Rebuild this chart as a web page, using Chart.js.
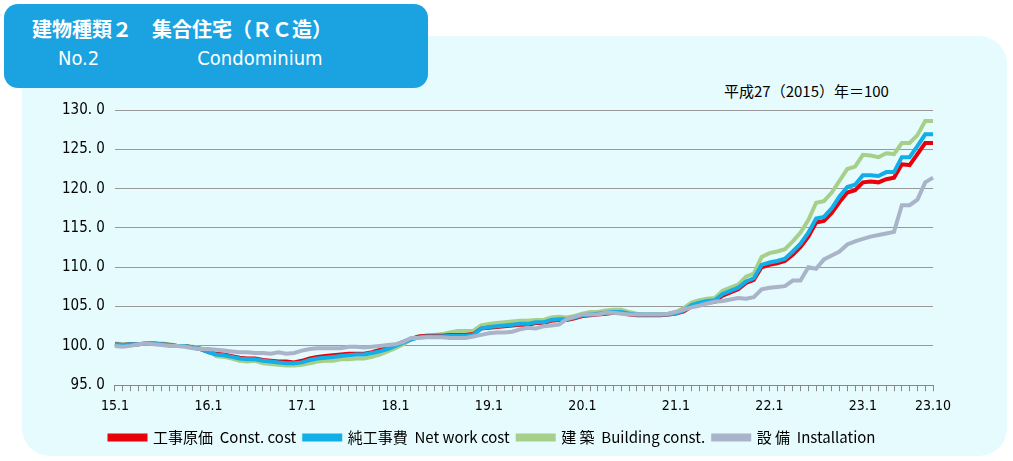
<!DOCTYPE html>
<html><head><meta charset="utf-8">
<script src="https://cdn.jsdelivr.net/npm/chart.js@4"></script>
<style>
body{margin:0;background:#fff;width:1013px;height:461px;overflow:hidden;font-family:"Noto Sans CJK JP","Noto Sans",sans-serif}
#panel{position:absolute;left:22px;top:36px;width:985px;height:420px;background:#e6fbfd;border-radius:28px}
#title{position:absolute;left:4px;top:4px;width:424px;height:84px;background:#1ba3e1;border-radius:14px;color:#fff;font-size:20px;line-height:28px;padding:11px 0 0 28px;box-sizing:border-box;font-weight:bold}
#unit{position:absolute;left:724px;top:80px;font-size:15px;color:#000}
#wrap{position:absolute;left:0;top:0;width:1013px;height:461px}
</style></head><body>
<div id="panel"></div>
<div id="title">建物種類２　集合住宅（ＲＣ造）<br><span style="font-weight:normal;font-family:'DejaVu Sans Condensed';font-size:20px;padding-left:26px">No.2<span style="display:inline-block;width:98px"></span>Condominium</span></div>
<div id="unit">平成27（2015）年＝100</div>
<div id="wrap"><canvas id="c"></canvas></div>
<script>
const years=[15,16,17,18,19,20,21,22,23];
const labels=[];
years.forEach(y=>{for(let m=1;m<=12;m++){if(y===23&&m>10)break;labels.push(y+'.'+m);}});
const constCost=[
100.2,100.1,100.2,100.2,100.3,100.3,100.2,100.1,100.0,100.0,99.8,99.6,
99.2,99.0,98.9,98.7,98.5,98.4,98.4,98.2,98.1,98.0,98.0,97.9,
98.1,98.4,98.6,98.7,98.8,98.9,99.0,99.0,99.0,99.2,99.5,99.8,
100.1,100.5,100.9,101.2,101.3,101.3,101.3,101.4,101.4,101.4,101.5,102.2,
102.3,102.4,102.5,102.6,102.7,102.7,102.9,102.9,103.2,103.3,103.3,103.5,
103.8,103.9,104.0,104.1,104.2,104.2,104.0,103.9,103.9,103.9,103.9,104.0,
104.1,104.4,105.0,105.3,105.5,105.6,106.4,106.8,107.2,108.0,108.4,110.0,
110.3,110.5,110.8,111.6,112.6,113.9,115.7,115.9,116.9,118.3,119.5,119.8,
120.8,120.9,120.8,121.2,121.4,123.1,123.0,124.4,125.8,125.8];
const netWork=[
100.2,100.1,100.2,100.2,100.3,100.3,100.2,100.1,100.0,100.0,99.8,99.6,
99.2,98.9,98.8,98.6,98.4,98.3,98.3,98.1,98.0,97.9,97.8,97.8,
97.9,98.2,98.4,98.5,98.6,98.7,98.8,98.9,98.9,99.1,99.3,99.6,
100.0,100.4,100.8,101.1,101.2,101.2,101.2,101.3,101.3,101.3,101.4,102.2,
102.4,102.5,102.6,102.7,102.8,102.8,103.0,103.0,103.3,103.4,103.4,103.6,
103.9,104.0,104.1,104.2,104.3,104.3,104.1,104.0,104.0,104.0,104.0,104.0,
104.1,104.5,105.2,105.5,105.7,105.8,106.6,107.0,107.4,108.2,108.6,110.3,
110.6,110.8,111.1,112.0,113.0,114.4,116.2,116.4,117.5,119.0,120.2,120.5,
121.7,121.7,121.6,122.1,122.1,124.0,124.0,125.4,126.9,126.9];
const building=[
100.3,100.2,100.2,100.2,100.3,100.3,100.3,100.2,100.0,100.0,99.9,99.7,
99.3,98.7,98.6,98.4,98.1,98.0,98.1,97.8,97.7,97.6,97.5,97.5,
97.6,97.8,98.0,98.1,98.1,98.3,98.3,98.4,98.4,98.6,98.9,99.3,
99.7,100.2,100.8,101.2,101.3,101.4,101.5,101.7,101.9,101.9,101.9,102.6,
102.8,102.9,103.0,103.1,103.2,103.2,103.3,103.3,103.6,103.7,103.6,103.8,
104.1,104.3,104.3,104.5,104.6,104.6,104.3,104.1,104.0,104.0,104.0,104.1,
104.3,104.8,105.5,105.8,106.0,106.1,107.0,107.4,107.8,108.8,109.2,111.3,
111.8,112.0,112.3,113.3,114.4,116.0,118.2,118.4,119.5,121.0,122.5,122.8,
124.3,124.2,124.0,124.5,124.4,125.8,125.8,126.8,128.6,128.6];
const installation=[
100.0,99.9,100.0,100.2,100.3,100.2,100.1,100.0,100.0,99.9,99.7,99.6,
99.6,99.5,99.4,99.3,99.2,99.2,99.1,99.1,99.0,99.2,99.0,99.1,
99.4,99.6,99.7,99.7,99.7,99.7,99.9,99.9,99.8,99.9,100.0,100.1,
100.2,100.5,101.0,101.0,101.1,101.1,101.1,101.0,101.0,101.0,101.2,101.4,
101.6,101.7,101.7,101.8,102.1,102.3,102.2,102.5,102.6,102.7,103.4,103.7,
104.0,104.0,104.0,104.2,104.2,104.1,104.0,104.0,104.0,104.0,104.0,104.1,
104.3,104.6,104.9,105.1,105.4,105.6,105.7,105.9,106.1,106.0,106.2,107.2,
107.4,107.5,107.6,108.3,108.3,110.0,109.8,111.0,111.5,112.0,112.9,113.3,
113.6,113.9,114.1,114.3,114.5,117.9,117.9,118.6,120.8,121.4];
const yTicks=[95,100,105,110,115,120,125,130];
const shown=['15.1','16.1','17.1','18.1','19.1','20.1','21.1','22.1','23.1','23.10'];
const mk=(l,d,c,o)=>({label:l,data:d,borderColor:c,backgroundColor:c,borderWidth:4,pointRadius:0,tension:0,fill:false,order:o});
new Chart(document.getElementById('c'),{type:'line',
data:{labels,datasets:[
 mk('工事原価  Const. cost',constCost,'#e8000b',2),
 mk('純工事費  Net work cost',netWork,'#11aee8',1),
 mk('建 築  Building const.',building,'#a6d08a',3),
 mk('設 備  Installation',installation,'#a9b4c8',0)]},
options:{responsive:true,maintainAspectRatio:false,animation:false,
 layout:{padding:{left:52,right:80,top:110,bottom:6}},
 plugins:{tooltip:{enabled:false},legend:{position:'bottom',labels:{boxWidth:36,boxHeight:4,color:'#000',font:{size:15,family:'"Noto Sans CJK JP"'},padding:8,
   sort:(a,b)=>a.datasetIndex-b.datasetIndex}}},
 scales:{
  x:{offset:false,grid:{drawOnChartArea:false,color:'#888',tickLength:6},border:{color:'#888'},
     ticks:{autoSkip:false,maxRotation:0,padding:7,color:'#000',font:{size:14,family:'"DejaVu Sans Condensed"'},
     callback:function(v){const l=labels[v];return shown.includes(l)?l:'';}}},
  y:{min:95,max:130,afterBuildTicks:a=>{a.ticks=yTicks.map(v=>({value:v}));},
     grid:{color:'#999',drawTicks:false},border:{display:false},
     ticks:{padding:10,color:'#000',font:{size:15,family:'"DejaVu Sans Condensed"'},callback:v=>v.toFixed(1).replace('.','. ')}}
 }}});
</script></body></html>
